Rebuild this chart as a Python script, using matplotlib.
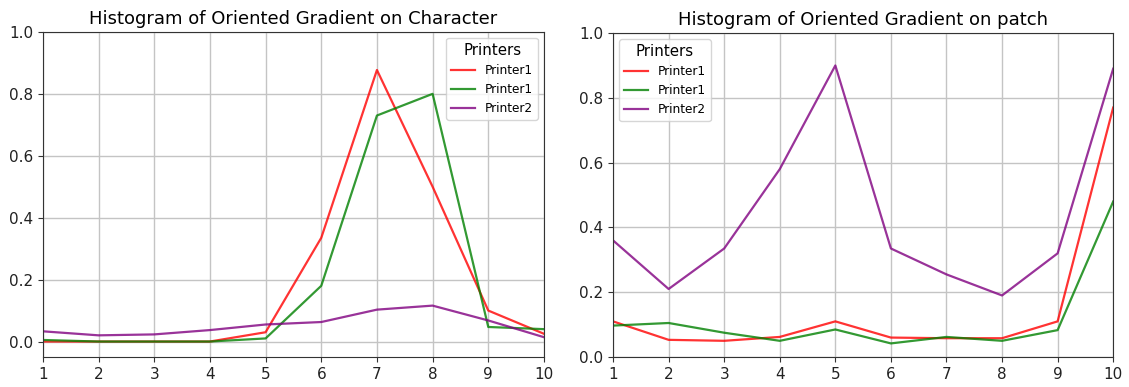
import matplotlib
matplotlib.use("Agg")
import matplotlib.pyplot as plt

bins = list(range(1, 11))

# HOG on character
char_p1a = [0.0, 0.0, 0.0, 0.0, 0.03, 0.335, 0.877, 0.50, 0.10, 0.025]
char_p1b = [0.005, 0.0, 0.0, 0.0, 0.01, 0.18, 0.73, 0.80, 0.047, 0.04]
char_p2 = [0.033, 0.02, 0.023, 0.037, 0.055, 0.063, 0.103, 0.116, 0.068, 0.014]

# HOG on patch
patch_p1a = [0.11, 0.053, 0.05, 0.062, 0.11, 0.06, 0.058, 0.058, 0.11, 0.77]
patch_p1b = [0.097, 0.105, 0.075, 0.05, 0.085, 0.042, 0.062, 0.05, 0.083, 0.48]
patch_p2 = [0.36, 0.21, 0.335, 0.58, 0.90, 0.335, 0.255, 0.19, 0.32, 0.89]

labels = ["Printer1", "Printer1", "Printer2"]
colors = ["red", "green", "purple"]

plt.rcParams["axes.edgecolor"] = "#333333"
plt.rcParams["xtick.color"] = "#333333"
plt.rcParams["ytick.color"] = "#333333"
plt.rcParams["xtick.labelcolor"] = "#222222"
plt.rcParams["ytick.labelcolor"] = "#222222"

fig = plt.figure(figsize=(11.29, 3.87), dpi=100)
ax1 = fig.add_axes([0.038, 0.0775, 0.4438, 0.840])
ax2 = fig.add_axes([0.543, 0.0775, 0.443, 0.837])


def draw(ax, series, title, ylim, loc):
    for ys, lab, c in zip(series, labels, colors):
        ax.plot(bins, ys, color=c, alpha=0.8, lw=1.6, label=lab)
    ax.set_xlim(1, 10)
    ax.set_ylim(*ylim)
    ax.set_xticks(bins)
    ax.set_yticks([0.0, 0.2, 0.4, 0.6, 0.8, 1.0])
    ax.grid(True, color="#c4c4c4", lw=1.0)
    ax.tick_params(labelsize=11)
    ax.set_title(title, fontsize=13)
    leg = ax.legend(title="Printers", loc=loc, fontsize=8.7)
    leg.get_title().set_fontsize(10.8)


draw(ax1, [char_p1a, char_p1b, char_p2],
     "Histogram of Oriented Gradient on Character", (-0.05, 1.0), "upper right")
draw(ax2, [patch_p1a, patch_p1b, patch_p2],
     "Histogram of Oriented Gradient on patch", (0.0, 1.0), "upper left")

fig.savefig("out.png", dpi=100)
